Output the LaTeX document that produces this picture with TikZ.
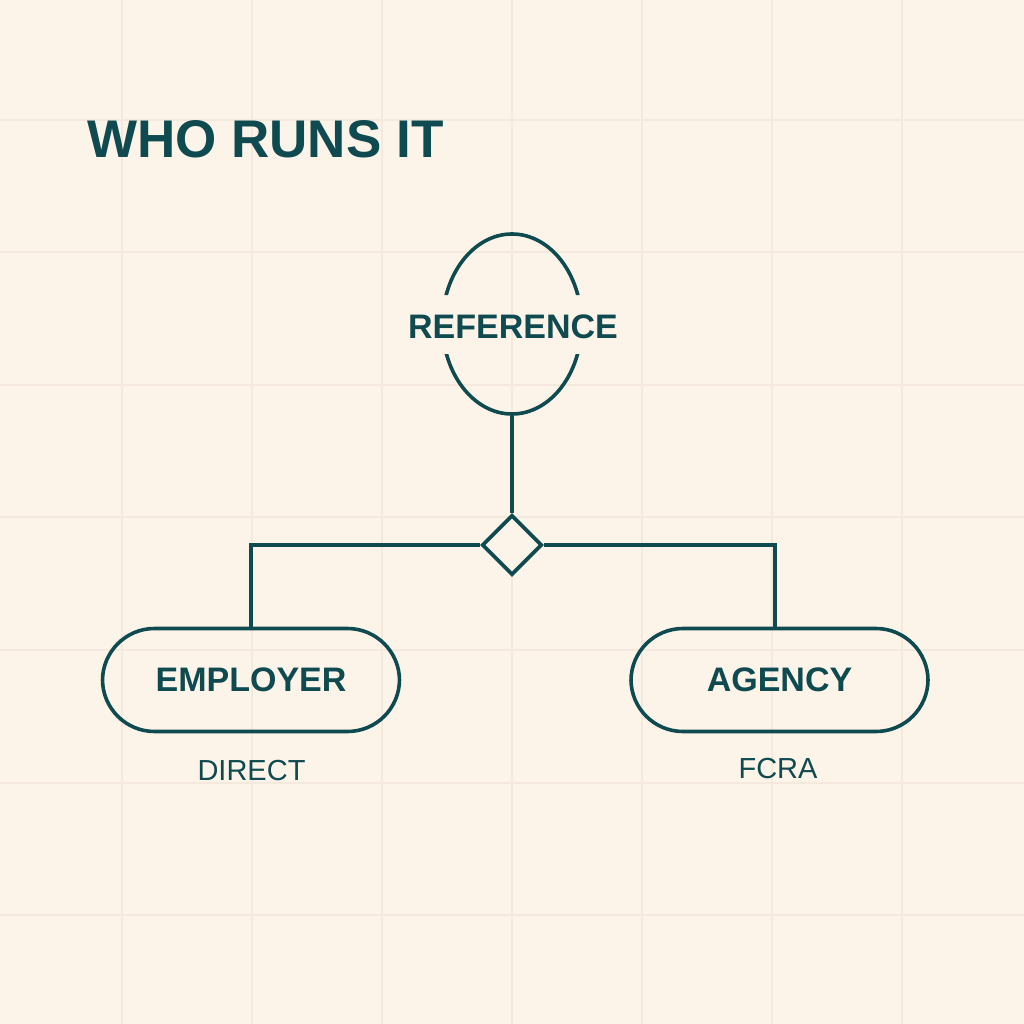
\documentclass[tikz,border=0pt]{standalone}
\usepackage{fontspec}
\setmainfont{Liberation Sans}
\usetikzlibrary{shapes.geometric}
\definecolor{bg}{HTML}{FCF4E9}
\definecolor{gridc}{HTML}{F4E9DC}
\definecolor{ink}{HTML}{0E4A4F}
\begin{document}
\begin{tikzpicture}[x=1pt,y=-1pt,
  conn/.style={draw=ink,line width=3.6pt,line join=miter},
  pill/.style={draw=ink,line width=3.6pt,rounded corners=52pt,minimum width=297pt,minimum height=103pt,inner sep=0pt,
    text=ink,font=\fontsize{34}{40}\selectfont\bfseries},
  sub/.style={text=ink,font=\fontsize{29}{34}\selectfont,anchor=base,inner sep=0pt},
  refshape/.style={ellipse,draw=ink,line width=3.6pt,line cap=round,minimum width=139pt,minimum height=180pt,inner sep=0pt},
  diam/.style={diamond,draw=ink,line width=3.6pt,fill=bg,minimum width=60pt,minimum height=60pt,inner sep=0pt,aspect=1}]
\useasboundingbox (0,0) rectangle (1024,1024);
\fill[bg] (0,0) rectangle (1024,1024);
\foreach \g in {122,252,382,512,642,772,902}{
  \draw[gridc,line width=1.5pt] (\g,0) -- (\g,1024);
}
\foreach \g in {120,252,385,517,650,783,915}{
  \draw[gridc,line width=1.5pt] (0,\g) -- (1024,\g);
}
\node[anchor=base west,inner sep=0pt,text=ink,font=\fontsize{53}{60}\selectfont\bfseries] (title) at (87,158) {WHO RUNS IT};
\begin{scope}
  \clip (0,0) rectangle (1024,295) (0,354) rectangle (1024,1024);
  \node[refshape] (ref) at (512,324) {};
\end{scope}
\node[anchor=base,inner sep=0pt,text=ink,font=\fontsize{34}{40}\selectfont\bfseries] (reftext) at (513,338) {REFERENCE};
\node[diam] (dia) at (512,545) {};
\node[pill] (emp) at (251,680) {EMPLOYER};
\node[pill] (agy) at (779.5,680) {AGENCY};
\node[sub] (direct) at (251.5,780) {DIRECT};
\node[sub] (fcra) at (778,778) {FCRA};
\coordinate (agyjoin) at (775,629);
\draw[conn] (ref.south) -- (dia.north);
\draw[conn] (dia.west) -| (emp.north);
\draw[conn] (dia.east) -| (agyjoin);
\end{tikzpicture}
\end{document}
